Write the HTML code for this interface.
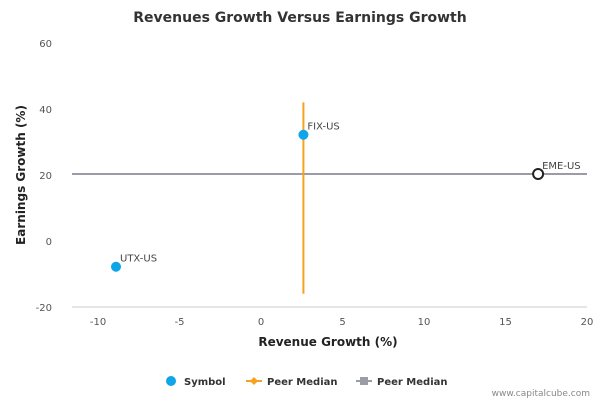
<!DOCTYPE html>
<html><head><meta charset="utf-8"><style>
body{margin:0;background:#fff;font-family:"Liberation Sans","DejaVu Sans",sans-serif}
svg text{font-family:"DejaVu Sans","Liberation Sans",sans-serif}
</style></head><body>
<svg id="c" width="600" height="400">
<text x="300" y="22" text-anchor="middle" font-size="14" font-weight="bold" fill="#333">Revenues Growth Versus Earnings Growth</text>
<g id="grid"></g><g id="marks"></g>
<text x="328" y="346" text-anchor="middle" font-size="12" font-weight="bold" fill="#222">Revenue Growth (%)</text>
<text transform="translate(25,175) rotate(-90)" text-anchor="middle" font-size="12" font-weight="bold" fill="#222">Earnings Growth (%)</text>
<g font-size="10" font-weight="bold" fill="#333">
<g><circle cx="171" cy="381" r="5" fill="#0ea5e9"/><text x="184" y="385">Symbol</text></g>
<g><line x1="246" y1="381" x2="262" y2="381" stroke="#f7a21b" stroke-width="2"/><path d="M254 377 L258 381 L254 385 L250 381Z" fill="#f7a21b"/><text x="267" y="385">Peer Median</text></g>
<g><line x1="356" y1="381" x2="372" y2="381" stroke="#9a9ca8" stroke-width="2"/><rect x="360" y="377" width="8" height="8" fill="#9a9ca8"/><text x="377" y="385">Peer Median</text></g>
</g>
<text x="590" y="396" text-anchor="end" font-size="9" fill="#888">www.capitalcube.com</text>
</svg>
<script>
const xTicks=[-10,-5,0,5,10,15,20];
const yTicks=[-20,0,20,40,60];
const symbols=["FIX-US","UTX-US","EME-US"];
const revenueGrowth=[2.6,-8.9,17.0];
const earningsGrowth=[32.2,-7.8,20.3];
const peerMedianRevenue=[2.6];
const peerMedianEarnings=[20.3];
const peerRevRange=[-16,42];
const xMin=-11.6,xMax=20,yMin=-20,yMax=60;
const L=72,R=587,T=43,B=307;
const X=v=>L+(v-xMin)/(xMax-xMin)*(R-L);
const Y=v=>B-(v-yMin)/(yMax-yMin)*(B-T);
const NS="http://www.w3.org/2000/svg";
function mk(t,a,p,txt){const e=document.createElementNS(NS,t);for(const k in a)e.setAttribute(k,a[k]);if(txt!=null)e.textContent=txt;p.appendChild(e);return e;}
const g=document.getElementById('grid'),m=document.getElementById('marks');
const ax=mk('line',{x1:L,y1:B,x2:R,y2:B,stroke:'#ccc'},g);


xTicks.forEach(v=>{const t=mk('text',{x:X(v),y:B+18,'text-anchor':'middle','font-size':10,fill:'#555'},g,String(v));

});
yTicks.forEach(v=>{const t=mk('text',{x:52,y:Y(v)+4,'text-anchor':'end','font-size':10,fill:'#555'},g,String(v));

});
const h=mk('line',{x1:L,y1:Y(peerMedianEarnings[0]),x2:R,y2:Y(peerMedianEarnings[0]),stroke:'#9a9ca8','stroke-width':2},m);


const vl=mk('line',{x1:X(peerMedianRevenue[0]),y1:Y(peerRevRange[1]),x2:X(peerMedianRevenue[0]),y2:Y(peerRevRange[0]),stroke:'#f7a21b','stroke-width':2},m);


symbols.forEach((s,i)=>{const own=s==="EME-US";
const c=mk('circle',{cx:X(revenueGrowth[i]),cy:Y(earningsGrowth[i]),r:5,fill:own?'#fff':'#0ea5e9',stroke:own?'#222':'none','stroke-width':2},m);


const t=mk('text',{x:X(revenueGrowth[i])+4,y:Y(earningsGrowth[i])-5,'font-size':10,fill:'#444'},m,s);

});
</script>
</body></html>
